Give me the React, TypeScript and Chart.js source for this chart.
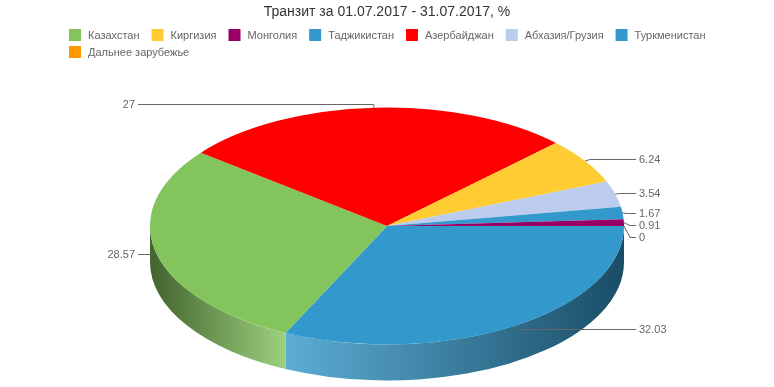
import React, { useEffect, useRef } from 'react';
import { Chart, registerables } from 'chart.js';

Chart.register(...registerables);

const titleText = 'Транзит за 01.07.2017 - 31.07.2017, %';

// legend order
const categories = [
  'Казахстан',
  'Киргизия',
  'Монголия',
  'Таджикистан',
  'Азербайджан',
  'Абхазия/Грузия',
  'Туркменистан',
  'Дальнее зарубежье',
];
const values = [28.57, 6.24, 0.91, 32.03, 27, 3.54, 1.67, 0];
const colors = ['#83c55c', '#ffcc33', '#990066', '#3399cc', '#ff0000', '#bbccee', '#3399cc', '#ff9900'];
// order of slices around the pie, clockwise from 3 o'clock
const sliceOrder = [7, 3, 0, 4, 1, 5, 6, 2];

const FONT = '"Liberation Sans", Arial, Helvetica, sans-serif';
const CX = 387;
const CY = 226;
const RX = 237;
const RY = 118.5;
const DEPTH = 36;

function shade(hex: string, f: number): string {
  const n = parseInt(hex.slice(1), 16);
  let r = (n >> 16) & 255;
  let g = (n >> 8) & 255;
  let b = n & 255;
  if (f >= 0) {
    r = r + (255 - r) * f;
    g = g + (255 - g) * f;
    b = b + (255 - b) * f;
  } else {
    r = r * (1 + f);
    g = g * (1 + f);
    b = b * (1 + f);
  }
  return `rgb(${Math.round(r)},${Math.round(g)},${Math.round(b)})`;
}

const pie3dPlugin = {
  id: 'pie3d',
  beforeDatasetsDraw(chart: any) {
    const ctx = chart.ctx as CanvasRenderingContext2D;
    const meta = chart.getDatasetMeta(0);
    const arcs = meta.data;
    const cols = chart.data.datasets[0].backgroundColor as string[];
    // side walls
    arcs.forEach((arc: any, i: number) => {
      const p = arc.getProps(['startAngle', 'endAngle'], true);
      const a1 = Math.max(p.startAngle, 0);
      const a2 = Math.min(p.endAngle, Math.PI);
      if (a2 - a1 <= 0.0001) return;
      const xa = CX + RX * Math.cos(a1);
      const xb = CX + RX * Math.cos(a2);
      const left = Math.min(xa, xb);
      const right = Math.max(xa, xb);
      const mid = (a1 + a2) / 2;
      const base = cols[i];
      const light = shade(base, 0.2);
      const dark = shade(base, -0.5);
      const grad = ctx.createLinearGradient(left, 0, right, 0);
      if (Math.cos(mid) < 0) {
        grad.addColorStop(0, dark);
        grad.addColorStop(1, light);
      } else {
        grad.addColorStop(0, light);
        grad.addColorStop(1, dark);
      }
      ctx.save();
      ctx.beginPath();
      ctx.ellipse(CX, CY, RX, RY, 0, a1, a2, false);
      ctx.ellipse(CX, CY + DEPTH, RX, RY, 0, a2, a1, true);
      ctx.closePath();
      ctx.fillStyle = grad;
      ctx.fill();
      ctx.restore();
    });
    // squash the pie into the top face
    const first = arcs[0].getProps(['x', 'y', 'outerRadius'], true);
    ctx.save();
    ctx.translate(CX, CY);
    ctx.scale(RX / first.outerRadius, RY / first.outerRadius);
    ctx.translate(-first.x, -first.y);
  },
  afterDatasetsDraw(chart: any) {
    chart.ctx.restore();
  },
  afterDraw(chart: any) {
    const ctx = chart.ctx as CanvasRenderingContext2D;
    const meta = chart.getDatasetMeta(0);
    const vals = chart.data.datasets[0].data as number[];
    // slice labels
    const items: any[] = [];
    meta.data.forEach((arc: any, i: number) => {
      const p = arc.getProps(['startAngle', 'endAngle'], true);
      const mid = (p.startAngle + p.endAngle) / 2;
      const c = Math.cos(mid);
      const s = Math.sin(mid);
      items.push({
        text: String(vals[i]),
        ax: CX + RX * c,
        ay: CY + RY * s,
        bx: CX + (RX + 6) * c,
        y: CY + (RY + 3.5) * s,
        right: c >= 0,
      });
    });
    [true, false].forEach((side) => {
      const list = items.filter((it) => it.right === side).sort((a, b) => a.y - b.y);
      for (let k = 1; k < list.length; k++) {
        if (list[k].y < list[k - 1].y + 12) list[k].y = list[k - 1].y + 12;
      }
    });
    ctx.save();
    ctx.font = `11px ${FONT}`;
    ctx.textBaseline = 'middle';
    ctx.strokeStyle = '#666';
    ctx.lineWidth = 1;
    items.forEach((it) => {
      const endX = it.right ? 636 : 138;
      ctx.beginPath();
      ctx.moveTo(it.ax, it.ay);
      ctx.lineTo(it.bx, Math.round(it.y) + 0.5);
      ctx.lineTo(endX, Math.round(it.y) + 0.5);
      ctx.stroke();
      ctx.fillStyle = '#666';
      ctx.textAlign = it.right ? 'left' : 'right';
      ctx.fillText(it.text, it.right ? 639 : 135, Math.round(it.y) + 0.5);
    });
    ctx.restore();

    // legend
    ctx.save();
    ctx.font = `11px ${FONT}`;
    ctx.textBaseline = 'middle';
    ctx.textAlign = 'left';
    const startX = 69;
    let x = startX;
    let y = 35;
    categories.forEach((c, i) => {
      const tw = ctx.measureText(c).width;
      const w = 19 + tw;
      if (x + w > 740 && x > startX) {
        x = startX;
        y += 17;
      }
      ctx.fillStyle = colors[i];
      ctx.fillRect(x, y - 6, 12, 12);
      ctx.fillStyle = '#666';
      ctx.fillText(c, x + 19, y + 0.5);
      x += w + 12;
    });
    ctx.restore();
  },
};

export default function App() {
  const canvasRef = useRef<HTMLCanvasElement | null>(null);

  useEffect(() => {
    const canvas = canvasRef.current;
    if (!canvas) return;
    const chart = new Chart(canvas, {
      type: 'pie',
      data: {
        labels: sliceOrder.map((i) => categories[i]),
        datasets: [
          {
            data: sliceOrder.map((i) => values[i]),
            backgroundColor: sliceOrder.map((i) => colors[i]),
            borderWidth: 0,
            clip: false,
            rotation: 90,
          } as any,
        ],
      },
      options: {
        responsive: true,
        maintainAspectRatio: false,
        animation: false,
        events: [],
        rotation: 90,
        layout: { padding: { left: 150, right: 150, top: 0, bottom: 20 } },
        plugins: {
          legend: { display: false },
          tooltip: { enabled: false },
          title: {
            display: true,
            text: titleText,
            color: '#333',
            font: { family: FONT, size: 14, weight: 'normal' },
            padding: { top: 4, bottom: 60 },
          },
        },
      } as any,
      plugins: [pie3dPlugin],
    });
    return () => chart.destroy();
  }, []);

  return (
    <div style={{ position: 'absolute', left: 0, top: 0, width: 774, height: 387, background: '#fff' }}>
      <canvas ref={canvasRef} />
    </div>
  );
}
